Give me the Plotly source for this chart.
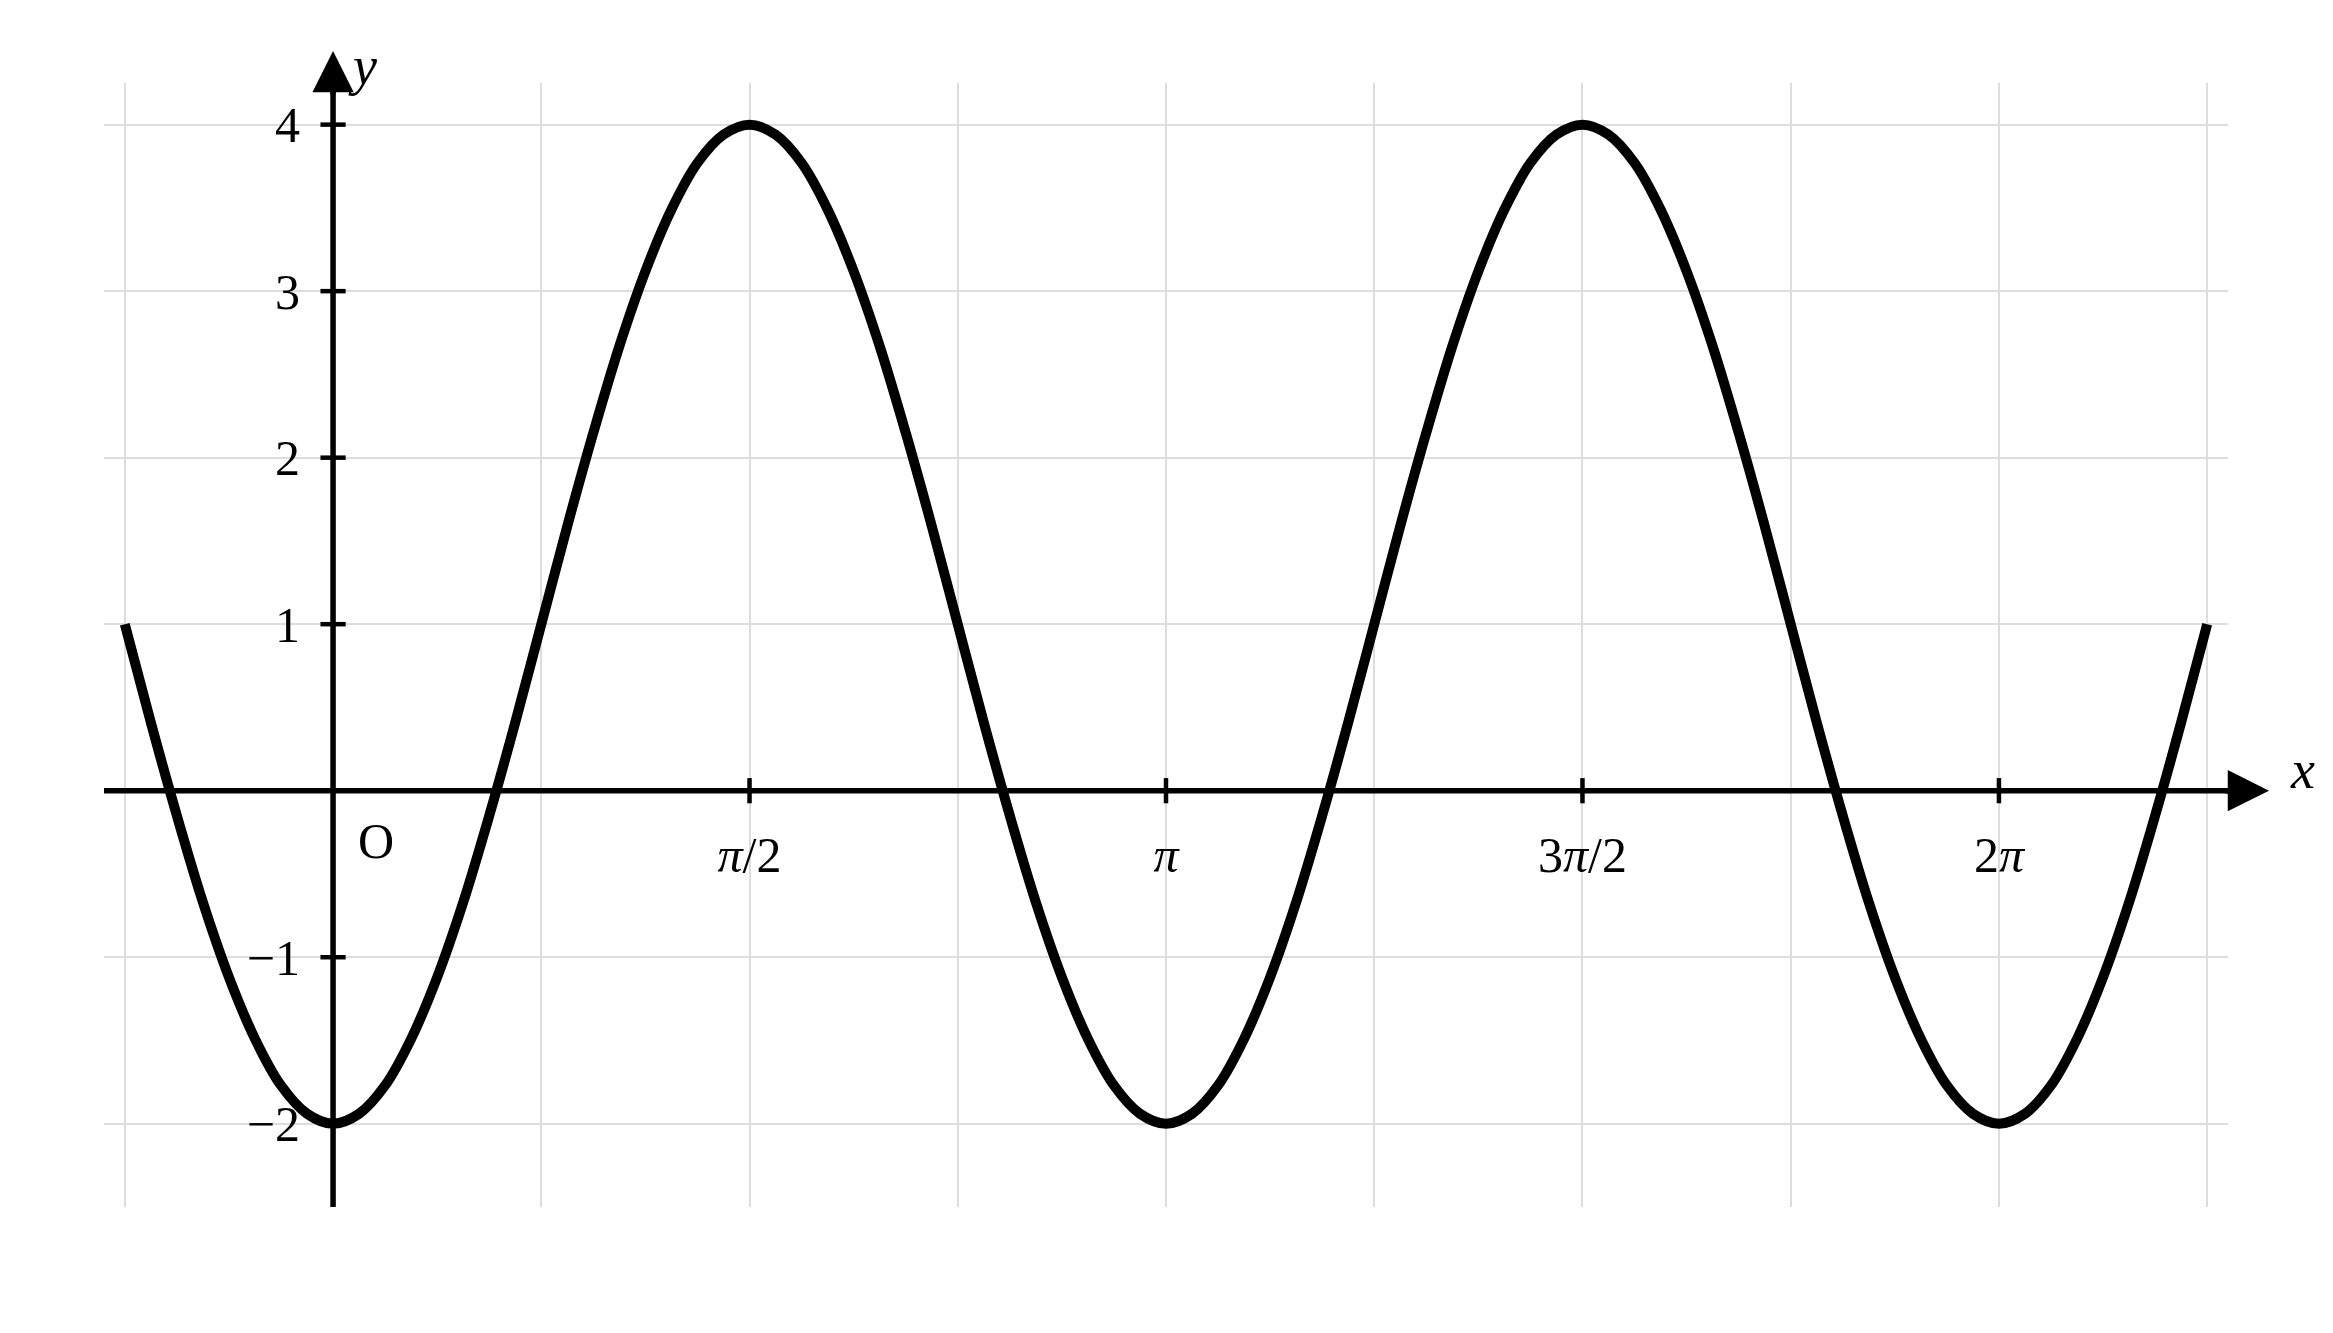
import plotly.graph_objects as go

# curve samples, x in units of pi (step pi/32), y
x_pi = [-0.25, -0.21875, -0.1875, -0.15625, -0.125, -0.09375, -0.0625, -0.03125,
        0.0, 0.03125, 0.0625, 0.09375, 0.125, 0.15625, 0.1875, 0.21875,
        0.25, 0.28125, 0.3125, 0.34375, 0.375, 0.40625, 0.4375, 0.46875,
        0.5, 0.53125, 0.5625, 0.59375, 0.625, 0.65625, 0.6875, 0.71875,
        0.75, 0.78125, 0.8125, 0.84375, 0.875, 0.90625, 0.9375, 0.96875,
        1.0, 1.03125, 1.0625, 1.09375, 1.125, 1.15625, 1.1875, 1.21875,
        1.25, 1.28125, 1.3125, 1.34375, 1.375, 1.40625, 1.4375, 1.46875,
        1.5, 1.53125, 1.5625, 1.59375, 1.625, 1.65625, 1.6875, 1.71875,
        1.75, 1.78125, 1.8125, 1.84375, 1.875, 1.90625, 1.9375, 1.96875,
        2.0, 2.03125, 2.0625, 2.09375, 2.125, 2.15625, 2.1875, 2.21875, 2.25]
y_vals = [1, 0.41, -0.15, -0.67, -1.12, -1.49, -1.77, -1.94,
          -2, -1.94, -1.77, -1.49, -1.12, -0.67, -0.15, 0.41,
          1, 1.59, 2.15, 2.67, 3.12, 3.49, 3.77, 3.94,
          4, 3.94, 3.77, 3.49, 3.12, 2.67, 2.15, 1.59,
          1, 0.41, -0.15, -0.67, -1.12, -1.49, -1.77, -1.94,
          -2, -1.94, -1.77, -1.49, -1.12, -0.67, -0.15, 0.41,
          1, 1.59, 2.15, 2.67, 3.12, 3.49, 3.77, 3.94,
          4, 3.94, 3.77, 3.49, 3.12, 2.67, 2.15, 1.59,
          1, 0.41, -0.15, -0.67, -1.12, -1.49, -1.77, -1.94,
          -2, -1.94, -1.77, -1.49, -1.12, -0.67, -0.15, 0.41, 1]

# grid / ticks
x_grid = [-0.25, 0, 0.25, 0.5, 0.75, 1, 1.25, 1.5, 1.75, 2, 2.25]
x_grid_text = ['', '', '', '<i>π</i>/2', '', '<i>π</i>', '', '3<i>π</i>/2', '', '2<i>π</i>', '']
x_tick_marks = [0.5, 1, 1.5, 2]
y_grid = [-2.5, -2, -1, 0, 1, 2, 3, 4]
y_grid_text = ['', '−2', '−1', '', '1', '2', '3', '4']
y_tick_marks = [-2, -1, 1, 2, 3, 4]

X_RANGE = [-0.275, 2.275]
Y_RANGE = [-2.5, 4.25]

FONT = "Liberation Serif"
GRID = "#dddddd"
AXIS_W = 5.5

fig = go.Figure()

fig.add_trace(go.Scatter(
    x=x_pi, y=y_vals, mode='lines',
    line=dict(color='black', width=10, shape='spline', smoothing=1.0),
    hoverinfo='skip', showlegend=False
))

# small tick marks crossing the axes
fig.add_trace(go.Scatter(
    x=[0] * len(y_tick_marks), y=y_tick_marks, mode='markers',
    marker=dict(symbol='line-ew', size=18, line=dict(color='black', width=4.5)),
    hoverinfo='skip', showlegend=False, cliponaxis=False
))
fig.add_trace(go.Scatter(
    x=x_tick_marks, y=[0] * len(x_tick_marks), mode='markers',
    marker=dict(symbol='line-ns', size=18, line=dict(color='black', width=4.5)),
    hoverinfo='skip', showlegend=False, cliponaxis=False
))

x_axis_pos = (0 - Y_RANGE[0]) / (Y_RANGE[1] - Y_RANGE[0])
y_axis_pos = (0 - X_RANGE[0]) / (X_RANGE[1] - X_RANGE[0])

# axis lines (extend past the grid up to the arrow heads)
fig.add_shape(type='line', xref='paper', yref='y', x0=0, x1=1.0005, y0=0, y1=0,
              line=dict(color='black', width=AXIS_W), layer='above')
fig.add_shape(type='line', xref='x', yref='paper', x0=0, x1=0, y0=0, y1=0.993,
              line=dict(color='black', width=AXIS_W), layer='above')

# arrow heads
fig.add_annotation(xref='paper', yref='y', x=1.0193, y=0, ax=-45, ay=0,
                   text='', showarrow=True, arrowhead=2, arrowsize=1.5,
                   arrowwidth=AXIS_W, arrowcolor='black', standoff=0)
fig.add_annotation(xref='x', yref='paper', x=0, y=1.0285, ax=0, ay=45,
                   text='', showarrow=True, arrowhead=2, arrowsize=1.5,
                   arrowwidth=AXIS_W, arrowcolor='black', standoff=0)

# axis names and origin
fig.add_annotation(xref='paper', yref='y', x=1.0353, y=0, xshift=14, yshift=21,
                   text='<i>x</i>', showarrow=False,
                   font=dict(family=FONT, size=54, color='black'))
fig.add_annotation(xref='x', yref='paper', x=0, y=1.0187, xshift=29, yshift=28,
                   text='<i>y</i>', showarrow=False,
                   font=dict(family=FONT, size=54, color='black'))
fig.add_annotation(xref='x', yref='y', x=0, y=0, xshift=43, yshift=-50,
                   text='O', showarrow=False,
                   font=dict(family=FONT, size=50, color='black'))

fig.update_layout(
    width=2333,
    height=1333,
    margin=dict(l=96, r=113, t=75, b=134),
    plot_bgcolor='white',
    paper_bgcolor='white',
    showlegend=False,
    font=dict(family=FONT, size=50, color='black'),
    xaxis=dict(
        range=X_RANGE,
        anchor='free', position=x_axis_pos,
        tickmode='array', tickvals=x_grid, ticktext=x_grid_text,
        showgrid=True, gridcolor=GRID, gridwidth=2,
        zeroline=False, showline=False, ticks='',
        ticklabelstandoff=30,
        tickfont=dict(family=FONT, size=50, color='black'),
        fixedrange=True
    ),
    yaxis=dict(
        range=Y_RANGE,
        anchor='free', position=y_axis_pos,
        tickmode='array', tickvals=y_grid, ticktext=y_grid_text,
        showgrid=True, gridcolor=GRID, gridwidth=2,
        zeroline=False, showline=False, ticks='',
        ticklabelstandoff=33,
        tickfont=dict(family=FONT, size=50, color='black'),
        fixedrange=True
    )
)

fig.write_html("out.html")
